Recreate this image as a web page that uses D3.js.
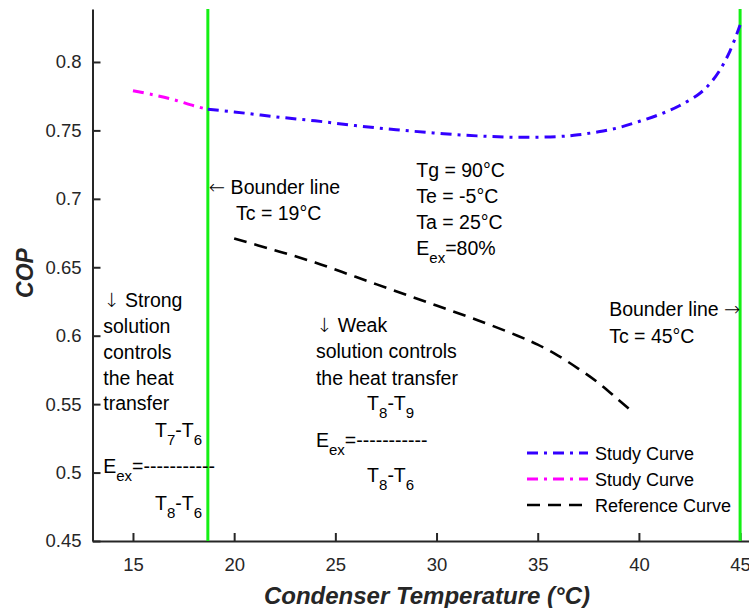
<!DOCTYPE html>
<html>
<head>
<meta charset="UTF-8">
<title>COP vs condenser temperature</title>
<script src="https://cdn.jsdelivr.net/npm/d3@7/dist/d3.min.js"></script>
<style>
  * { margin: 0; padding: 0; }
  body { background: #fff; }
  svg { display: block; font-family: "Liberation Sans", Arial, sans-serif; }
  .arrow { font-family: "DejaVu Sans", sans-serif; font-weight: 200; }
</style>
</head>
<body>
<svg id="chart" width="749" height="608"></svg>
<script>
// condenser temperature (°C) / COP
var studyTc   = [18.7, 20, 22, 24, 26, 28, 30, 32, 34, 36, 37, 38, 39, 40, 41, 42, 43, 43.5, 44, 44.5, 45];
var studyCop  = [0.7654, 0.7635, 0.760, 0.757, 0.7535, 0.7505, 0.748, 0.746, 0.745, 0.7455, 0.7468, 0.749, 0.752, 0.7565, 0.7615, 0.768, 0.777, 0.784, 0.794, 0.808, 0.827];
var strongTc  = [15, 16, 17, 18, 18.7];
var strongCop = [0.779, 0.776, 0.7725, 0.768, 0.7654];
var refTc     = [20, 22, 24, 26, 28, 30, 32, 34, 35, 36, 37, 38, 39, 39.6];
var refCop    = [0.671, 0.6625, 0.6535, 0.643, 0.6325, 0.622, 0.6115, 0.600, 0.5935, 0.5855, 0.576, 0.5655, 0.553, 0.5455];
var bounders  = [18.7, 45];
var xTicks    = [15, 20, 25, 30, 35, 40, 45];
var yTicks    = [0.45, 0.5, 0.55, 0.6, 0.65, 0.7, 0.75, 0.8];
var legendNames = ["Study Curve", "Study Curve", "Reference Curve"];

var svg = d3.select("#chart");
var ink = "#262626";
var fs = 19.5, subFs = 15;

var x = d3.scaleLinear().domain([13, 45.44]).range([92.5, 749]);
var y = d3.scaleLinear().domain([0.45, 0.8387]).range([541, 9]);

// axes (ticks point inward, no box)
var xAxis = d3.axisBottom(x).tickValues(xTicks).tickSizeInner(-8).tickSizeOuter(0);
var yAxis = d3.axisLeft(y).tickValues(yTicks).tickSizeInner(-8).tickSizeOuter(0).tickPadding(11)
  .tickFormat(function (d) { return String(+d.toFixed(2)); });

var gx = svg.append("g").attr("transform", "translate(0,541)").call(xAxis);
var gy = svg.append("g").attr("transform", "translate(92.5,0)").call(yAxis);
[gx, gy].forEach(function (g) {
  g.select(".domain").attr("stroke", ink).attr("stroke-width", 2);
  g.selectAll(".tick line").attr("stroke", ink).attr("stroke-width", 2);
  g.selectAll(".tick text").attr("fill", ink).style("font-size", "18.5px")
    .style("font-family", "Liberation Sans, Arial, sans-serif");
});
gx.selectAll(".tick text").attr("dy", null).attr("y", 30);

// axis titles
svg.append("text").attr("x", 427).attr("y", 604).attr("text-anchor", "middle")
  .style("font-size", "24px").style("font-weight", "bold").style("font-style", "italic")
  .attr("fill", ink).text("Condenser Temperature (°C)");
svg.append("text").attr("transform", "translate(33,273) rotate(-90)").attr("text-anchor", "middle")
  .style("font-size", "23px").style("font-weight", "bold").style("font-style", "italic")
  .attr("fill", ink).text("COP");

// bounder lines
svg.selectAll("line.bound").data(bounders).enter().append("line")
  .attr("class", "bound")
  .attr("x1", function (d) { return x(d); }).attr("x2", function (d) { return x(d); })
  .attr("y1", y.range()[1]).attr("y2", y.range()[0])
  .attr("stroke", "#14f014").attr("stroke-width", 3);

// curves
var line = d3.line().x(function (d) { return x(d[0]); }).y(function (d) { return y(d[1]); })
  .curve(d3.curveCatmullRom.alpha(0.5));

var series = [
  { tc: studyTc,  cop: studyCop,  color: "#3300ff", dash: "11,6,3,6", w: 3 },
  { tc: strongTc, cop: strongCop, color: "#ff00ff", dash: "11,6,3,6", w: 3 },
  { tc: refTc,    cop: refCop,    color: "#000000", dash: "13,8",     w: 2.6 }
];

series.forEach(function (s) {
  svg.append("path")
    .datum(d3.zip(s.tc, s.cop))
    .attr("d", line)
    .attr("fill", "none")
    .attr("stroke", s.color)
    .attr("stroke-width", s.w)
    .attr("stroke-dasharray", s.dash);
});

// legend
var leg = svg.append("g").attr("transform", "translate(527,453)");
series.forEach(function (s, i) {
  var row = leg.append("g").attr("transform", "translate(0," + (i * 26) + ")");
  row.append("line").attr("x1", 0).attr("x2", 61).attr("y1", 0).attr("y2", 0)
    .attr("stroke", s.color).attr("stroke-width", s.w).attr("stroke-dasharray", s.dash);
  row.append("text").attr("x", 68).attr("y", 6.5).style("font-size", "18px")
    .attr("fill", "#000").text(legendNames[i]);
});

// annotations, anchored in data units
// parts: [text, kind] with kind 0 = normal, 1 = subscript, 2 = back to baseline, "a" = arrow glyph
function note(tc, cop, parts) {
  if (typeof parts === "string") parts = [[parts, 0]];
  var t = svg.append("text").attr("x", x(tc)).attr("y", y(cop))
    .style("font-size", fs + "px").attr("fill", "#000");
  parts.forEach(function (p) {
    var sp = t.append("tspan").text(p[0]);
    if (p[1] === 1) sp.attr("dy", 8).style("font-size", subFs + "px");
    if (p[1] === 2) sp.attr("dy", -8);
    if (p[1] === "a") sp.attr("class", "arrow");
  });
  return t;
}

note(18.75, 0.7036, [["\u2190", "a"], [" Bounder line", 0]]);
note(20.09, 0.6842, "Tc = 19°C");

note(29.0, 0.7160, "Tg = 90°C");
note(29.0, 0.6970, "Te = -5°C");
note(29.0, 0.6780, "Ta = 25°C");
note(29.0, 0.6590, [["E", 0], ["ex", 1], ["=80%", 2]]);

note(13.53, 0.6212, [["\u2193", "a"], [" Strong", 0]]);
note(13.53, 0.6022, "solution");
note(13.53, 0.5832, "controls");
note(13.53, 0.5642, "the heat");
note(13.53, 0.5457, "transfer");
note(16.09, 0.5262, [["T", 0], ["7", 1], ["-T", 2], ["6", 1]]);
note(13.53, 0.4995, [["E", 0], ["ex", 1], ["=-----------", 2]]);
note(16.09, 0.4727, [["T", 0], ["8", 1], ["-T", 2], ["6", 1]]);

note(24.04, 0.6029, [["\u2193", "a"], [" Weak", 0]]);
note(24.04, 0.5835, "solution controls");
note(24.04, 0.5640, "the heat transfer");
note(26.57, 0.5457, [["T", 0], ["8", 1], ["-T", 2], ["9", 1]]);
note(24.04, 0.5189, [["E", 0], ["ex", 1], ["=-----------", 2]]);
note(26.57, 0.4933, [["T", 0], ["8", 1], ["-T", 2], ["6", 1]]);

note(38.53, 0.6144, [["Bounder line ", 0], ["\u2192", "a"]]);
note(38.53, 0.5949, "Tc = 45°C");
</script>
</body>
</html>
